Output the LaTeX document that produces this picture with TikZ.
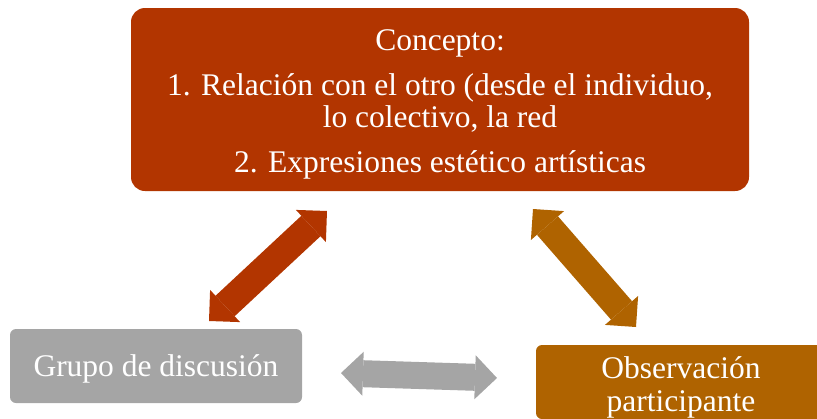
\documentclass[tikz,border=0pt]{standalone}
\usepackage{fontspec}
\setmainfont{Liberation Serif}
\usetikzlibrary{arrows.meta}
\definecolor{rust}{HTML}{B23500}
\definecolor{ochre}{HTML}{AF6300}
\definecolor{greyc}{HTML}{A5A5A5}
\tikzset{
  box/.style={inner sep=0pt, text=white, align=center, font=\fontsize{31.5}{32}\selectfont},
  dbl/.style={line width=28pt, {Triangle[width=44pt,length=22pt,line width=0pt]}-{Triangle[width=44pt,length=22pt,line width=0pt]}}
}
\begin{document}
\begin{tikzpicture}[x=1pt,y=-1pt]
\useasboundingbox (0,0) rectangle (817,418);
\clip (0,0) rectangle (817,418);
\node[box, fill=rust, rounded corners=14pt, minimum width=618pt, minimum height=183pt] (concept) at (440,99.5)
  {\rule{0pt}{31.5pt}Concepto:\\[13pt]1. Relación con el otro (desde el individuo,\\lo colectivo, la red\\[13pt]2. Expresiones estético artísticas};
\node[box, fill=greyc, rounded corners=6pt, minimum width=292pt, minimum height=74pt] (grupo) at (156,366)
  {\rule{0pt}{28pt}Grupo de discusión};
\node[box, fill=ochre, rounded corners=6pt, minimum width=290pt, minimum height=74pt, font=\fontsize{31.5}{33}\selectfont] (obs) at (681,382)
  {\rule{0pt}{32pt}Observación\\participante};
\coordinate (r1) at (209,321);
\coordinate (r2) at (327,211);
\coordinate (o1) at (533,209);
\coordinate (o2) at (636,327);
\coordinate (g1) at (341,373);
\coordinate (g2) at (497,378);
\draw[dbl, rust] (r1) -- (r2);
\draw[dbl, ochre] (o1) -- (o2);
\draw[dbl, greyc, line width=27pt] (g1) -- (g2);
\end{tikzpicture}
\end{document}
